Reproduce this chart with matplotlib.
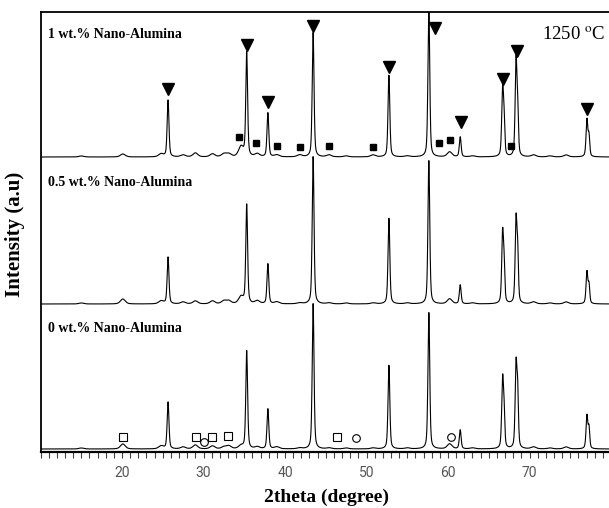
"""
XRD patterns, alumina additions sintered at 1250 C (three stacked traces).
"""

import numpy as np
import matplotlib.pyplot as plt
from matplotlib.ticker import MultipleLocator, FixedLocator

plt.rcParams.update({
    "font.family": ["Liberation Serif", "DejaVu Serif"],
    "mathtext.fontset": "stix",
    "figure.facecolor": "white",
})

# ---- data ----------------------------------------------------------------
# main peak positions (2theta, degree)
peak_pos = [25.65, 35.3, 37.9, 43.45, 52.75, 57.65, 61.5, 66.7, 68.35, 77.05]
# heights above each trace baseline (arbitrary units)
h_1wt = [57, 104, 44, 125, 82, 150, 20, 67, 95, 37]
h_05wt = [47, 99, 40, 148, 86, 144, 19, 69, 83, 32]
h_0wt = [47, 98, 40, 146, 84, 137, 19, 68, 83, 33]

# shoulders (K-alpha2) next to the high angle peaks
shoulder_pos = [66.88, 68.55, 77.3]
sh_1wt = [30, 40, 20]
sh_05wt = [32, 45, 18]
sh_0wt = [30, 50, 20]

# minor peaks / bumps
minor_pos = [15.0, 20.1, 24.8, 27.5, 29.0, 31.1, 32.5, 33.1, 34.6, 36.6,
             39.0, 41.8, 45.4, 47.5, 50.8, 55.0, 60.2, 63.0, 70.5, 72.5, 74.5]
minor_1wt = [1, 3, 3, 2, 4, 3, 3, 3, 10, 3, 2, 2, 2, 1, 2, 1, 5, 1, 2, 1, 2]
minor_05wt = [1, 5, 3, 2, 3, 3, 3, 3, 7, 3, 2, 1, 1, 1, 1, 1, 5, 1, 2, 1, 2]
minor_0wt = [1, 5, 3, 2, 4, 3, 2, 3, 3, 2, 2, 1, 1, 1, 1, 1, 5, 1, 2, 1, 2]

# vertical offsets of the three traces
offsets = [295, 148, 3]
labels = ["1 wt.% Nano-Alumina", "0.5 wt.% Nano-Alumina", "0 wt.% Nano-Alumina"]
label_y = [417, 269, 124]

# phase markers
tri_x = [25.65, 35.3, 37.9, 43.45, 52.8, 58.4, 61.6, 66.7, 68.5, 77.05]
tri_y = [363, 407, 350, 426, 385, 424, 330, 373, 401, 343]
sq_x = [34.4, 36.4, 39.0, 41.8, 45.4, 50.8, 58.9, 60.2, 67.7]
sq_y = [315, 309, 306, 305, 306, 305, 309, 312, 306]
osq_x = [20.1, 29.1, 31.0, 33.0, 46.4]
osq_y = [15, 15, 15, 16, 15]
oc_x = [30.1, 48.7, 60.4]
oc_y = [10, 14, 15]

tick_vals = [20, 30, 40, 50, 60, 70]


def pattern(x, pos, hts, fwhm):
    # pseudo-voigt peak profile
    y = np.zeros_like(x)
    for p, h in zip(pos, hts):
        d = (x - p) / (fwhm / 2)
        lor = 1 / (1 + d ** 2)
        gau = np.exp(-np.log(2) * d ** 2)
        y += h * (0.45 * lor + 0.55 * gau)
    return y


x = np.arange(10, 80.01, 0.02)
series = [
    (h_1wt, sh_1wt, minor_1wt),
    (h_05wt, sh_05wt, minor_05wt),
    (h_0wt, sh_0wt, minor_0wt),
]

fig = plt.figure(figsize=(6.09, 5.08), dpi=100)
ax = fig.add_axes([40.5 / 609, 56 / 508, 570.5 / 609, 440 / 508])

for (hm, hs, hn), off in zip(series, offsets):
    y = (pattern(x, peak_pos, hm, 0.26) + pattern(x, shoulder_pos, hs, 0.22)
         + pattern(x, minor_pos, hn, 0.7))
    ax.plot(x, y + off, color="black", linewidth=0.8)

ax.plot(tri_x, tri_y, "v", color="black", markersize=8.5, linestyle="none")
ax.plot(sq_x, sq_y, "s", color="black", markersize=5, linestyle="none")
ax.plot(osq_x, osq_y, "s", mfc="white", mec="black", mew=0.8,
        markersize=5.5, linestyle="none")
ax.plot(oc_x, oc_y, "o", mfc="white", mec="black", mew=0.8,
        markersize=5.5, linestyle="none")

for lab, ly in zip(labels, label_y):
    ax.text(10.9, ly, lab, fontsize=10, fontweight="bold", va="center", ha="left")
ax.text(71.5, 417, "1250 $^{\\mathrm{o}}$C", fontsize=13.5, va="center", ha="left")

ax.set_xlim(10, 80)
ax.set_ylim(0, 440)
ax.xaxis.set_major_locator(FixedLocator(tick_vals))
ax.xaxis.set_minor_locator(MultipleLocator(1))
ax.tick_params(axis="x", which="both", direction="out", length=4, width=0.8,
               top=False, color="#444444")
ax.tick_params(axis="x", which="major", labelsize=10, labelcolor="#555555", pad=6)
for t in ax.get_xticklabels():
    t.set_family(["Liberation Sans Narrow", "Roboto", "DejaVu Sans"])
ax.set_yticks([])
for s in ["top", "left"]:
    ax.spines[s].set_linewidth(1.3)
ax.spines["bottom"].set_linewidth(1.6)

fig.text(15 / 609, 1 - 234 / 508, "Intensity (a.u)", rotation=90, fontsize=15,
         fontweight="bold", va="center", ha="center")
fig.text(327 / 609, 1 - 497 / 508, "2theta (degree)", fontsize=14,
         fontweight="bold", va="center", ha="center")

fig.savefig("out.png", dpi=100)
